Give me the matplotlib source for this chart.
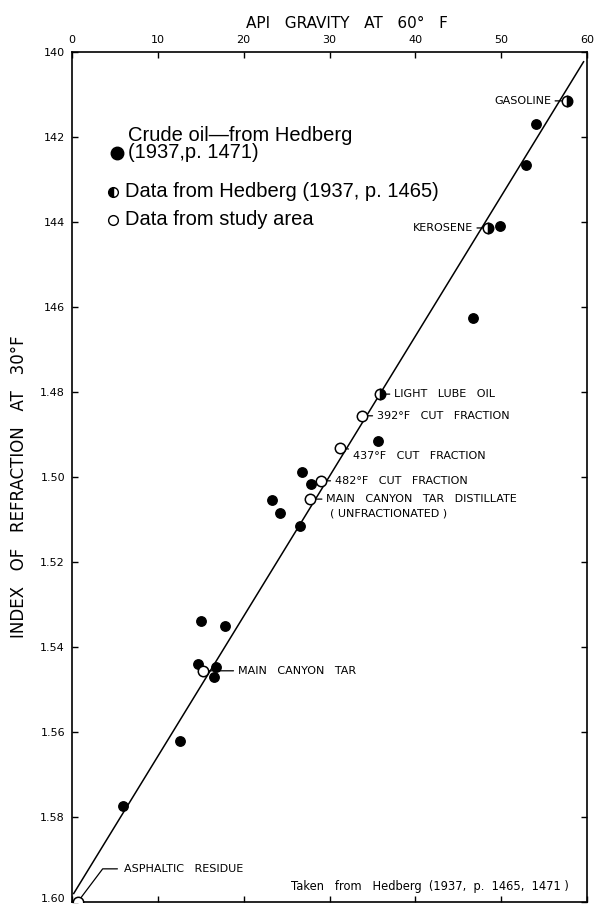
import numpy as np
import matplotlib.pyplot as plt
import matplotlib.transforms as mtransforms

# --- values ---
crude_api = [54.0, 52.9, 49.9, 46.7, 35.7, 26.8, 27.9, 23.3, 24.2, 26.6,
             15.0, 17.8, 14.7, 16.8, 16.6, 12.6, 5.9]
crude_nd = [1.4169, 1.4266, 1.4409, 1.4626, 1.4915, 1.4988, 1.5016, 1.5054, 1.5085, 1.5115,
            1.5339, 1.5351, 1.5440, 1.5448, 1.5471, 1.5621, 1.5774]

hedberg_names = ['GASOLINE', 'KEROSENE', 'LIGHT   LUBE   OIL']
hedberg_api = [57.7, 48.5, 35.9]
hedberg_nd = [1.4115, 1.4414, 1.4805]

study_names = ['392°F   CUT   FRACTION', '437°F   CUT   FRACTION', '482°F   CUT   FRACTION',
               'MAIN   CANYON   TAR   DISTILLATE', 'MAIN   CANYON   TAR', 'ASPHALTIC   RESIDUE']
study_api = [33.8, 31.2, 29.0, 27.7, 15.3, 0.7]
study_nd = [1.4856, 1.4932, 1.5009, 1.5052, 1.5456, 1.5999]

fit_api = [0.2, 59.6]
fit_nd = [1.598, 1.4023]

xticks = [0, 10, 20, 30, 40, 50, 60]
yticks = [1.40, 1.42, 1.44, 1.46, 1.48, 1.50, 1.52, 1.54, 1.56, 1.58, 1.60]
ytick_labels = ['140', '142', '144', '146', '1.48', '1.50', '1.52', '1.54', '1.56', '1.58', '1.60']

fig = plt.figure(figsize=(5.94, 9.06), dpi=100)
ax = fig.add_axes([72/594, 1-902/906, 515/594, 850/906])

ax.plot(fit_api, fit_nd, color='black', lw=1.1, zorder=1)
ax.plot(crude_api, crude_nd, 'o', ms=6.8, color='black', zorder=3)
ax.plot(hedberg_api, hedberg_nd, 'o', ms=7.5, fillstyle='right', markerfacecolor='black',
        markerfacecoloralt='white', markeredgecolor='black', mew=1.1, zorder=4)
ax.plot(study_api, study_nd, 'o', ms=7.5, markerfacecolor='white', markeredgecolor='black',
        mew=1.1, zorder=4)

ax.set_xlim(0, 60)
ax.set_ylim(1.60, 1.40)
ax.xaxis.tick_top()
ax.set_xticks(xticks)
ax.set_yticks(yticks)
ax.set_yticklabels(ytick_labels)
ax.tick_params(axis='both', direction='in', length=4, width=1, labelsize=8,
               top=True, bottom=True, left=True, right=True, pad=5)
ax.tick_params(axis='x', labelbottom=False, labeltop=True)
for s in ax.spines.values():
    s.set_linewidth(1.2)

# nudge the bottom label up a little so it stays inside the picture
last = ax.get_yticklabels()[-1]
last.set_transform(last.get_transform() + mtransforms.ScaledTranslation(0, 4/100, fig.dpi_scale_trans))

small = dict(fontsize=8, family='DejaVu Sans', va='center')
line = dict(arrowstyle='-', lw=0.9, color='black', shrinkA=1, shrinkB=0)

# labels next to the Hedberg points
ax.annotate(hedberg_names[0], xy=(hedberg_api[0], hedberg_nd[0]), xytext=(55.8, hedberg_nd[0]),
            ha='right', arrowprops=line, **small)
ax.annotate(hedberg_names[1], xy=(hedberg_api[1], hedberg_nd[1]), xytext=(46.7, hedberg_nd[1]),
            ha='right', arrowprops=line, **small)
ax.annotate(hedberg_names[2], xy=(hedberg_api[2], hedberg_nd[2]), xytext=(37.5, hedberg_nd[2]),
            ha='left', arrowprops=line, **small)

# study area labels
ax.annotate(study_names[0], xy=(study_api[0], study_nd[0]), xytext=(35.5, study_nd[0]),
            ha='left', arrowprops=line, **small)
ax.annotate(study_names[1], xy=(study_api[1], study_nd[1]), xytext=(32.7, 1.4951),
            ha='left', arrowprops=line, **small)
ax.annotate(study_names[2], xy=(study_api[2], study_nd[2]), xytext=(30.6, study_nd[2]),
            ha='left', arrowprops=line, **small)
ax.annotate(study_names[3], xy=(study_api[3], study_nd[3]), xytext=(29.6, study_nd[3]),
            ha='left', arrowprops=line, **small)
ax.text(30.0, 1.5085, '( UNFRACTIONATED )', ha='left', **small)
ax.annotate(study_names[4], xy=(study_api[4], study_nd[4]), xytext=(19.3, study_nd[4]),
            ha='left', arrowprops=line, **small)
ax.annotate(study_names[5], xy=(study_api[5], study_nd[5]), xytext=(6.1, 1.5922),
            ha='left', arrowprops=dict(arrowstyle='-', lw=0.9, color='black', shrinkA=3, shrinkB=3,
                                       connectionstyle='angle,angleA=0,angleB=53,rad=0'),
            **small)

ax.text(0.965, 0.011, 'Taken   from   Hedberg  (1937,  p.  1465,  1471 )', transform=ax.transAxes,
        ha='right', va='bottom', fontsize=8.3, family='DejaVu Sans')

# legend, drawn by hand
leg = dict(fontsize=14.5, family='Liberation Sans', va='center', transform=ax.transAxes)
ax.plot([0.0874], [0.8812], 'o', ms=9, color='black', transform=ax.transAxes, clip_on=False)
ax.text(0.1087, 0.9023, 'Crude oil\u2014from Hedberg', **leg)
ax.text(0.1087, 0.8812, '(1937,p. 1471)', **leg)
ax.plot([0.0796], [0.8353], 'o', ms=7, fillstyle='left', markerfacecolor='black',
        markerfacecoloralt='white', markeredgecolor='black', mew=1, transform=ax.transAxes)
ax.text(0.1029, 0.8353, 'Data from Hedberg (1937, p. 1465)', **leg)
ax.plot([0.0796], [0.8024], 'o', ms=7, markerfacecolor='white', markeredgecolor='black',
        mew=1, transform=ax.transAxes)
ax.text(0.1029, 0.8024, 'Data from study area', **leg)

fig.text(347/594, 1-24/906, 'API   GRAVITY   AT   60°   F', ha='center', va='center',
         fontsize=11, family='DejaVu Sans')
fig.text(19/594, 1-487/906, 'INDEX   OF   REFRACTION   AT   30°F', ha='center', va='center',
         rotation=90, fontsize=12, family='DejaVu Sans')

fig.savefig('out.png', dpi=100)
